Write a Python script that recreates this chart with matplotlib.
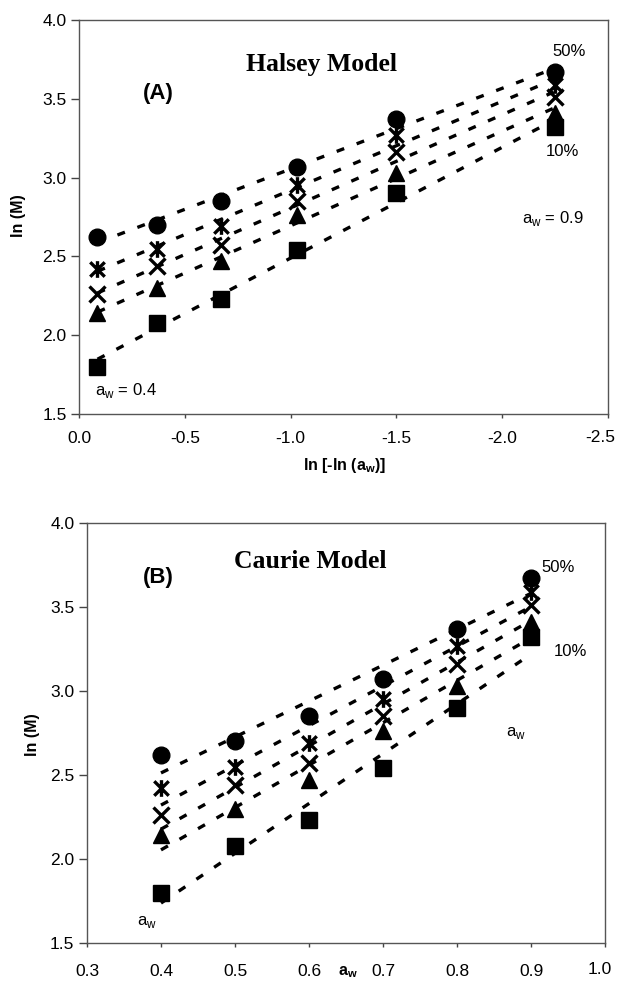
import numpy as np
import matplotlib
matplotlib.use("Agg")
import matplotlib.pyplot as plt
from matplotlib.path import Path

plt.rcParams['font.family'] = ['Liberation Sans', 'DejaVu Sans']
plt.rcParams['mathtext.fontset'] = 'custom'
plt.rcParams['mathtext.rm'] = 'Liberation Sans'
plt.rcParams['mathtext.bf'] = 'Liberation Sans:bold'

# ---- data ----
aw = [0.4, 0.5, 0.6, 0.7, 0.8, 0.9]
series_labels = ["50%", "40%", "30%", "20%", "10%"]
lnM_50 = [2.62, 2.70, 2.85, 3.07, 3.37, 3.67]
lnM_40 = [2.42, 2.55, 2.69, 2.95, 3.27, 3.59]
lnM_30 = [2.26, 2.44, 2.57, 2.85, 3.16, 3.51]
lnM_20 = [2.14, 2.30, 2.47, 2.76, 3.03, 3.41]
lnM_10 = [1.80, 2.08, 2.23, 2.54, 2.90, 3.32]
series = [lnM_50, lnM_40, lnM_30, lnM_20, lnM_10]

yticks = [1.5, 2.0, 2.5, 3.0, 3.5, 4.0]
xticks_A = [0.0, -0.5, -1.0, -1.5, -2.0, -2.5]
xticks_B = [0.3, 0.4, 0.5, 0.6, 0.7, 0.8, 0.9, 1.0]

# asterisk marker like Excel (X plus vertical bar)
ast = Path([(-1, -1), (1, 1), (-1, 1), (1, -1), (0, -1.15), (0, 1.15)],
           [Path.MOVETO, Path.LINETO, Path.MOVETO, Path.LINETO, Path.MOVETO, Path.LINETO])
markers = [dict(marker='o', ms=12, mfc='black', mec='black', mew=1),
           dict(marker=ast, ms=12, mfc='none', mec='black', mew=2.4),
           dict(marker='x', ms=12, mfc='none', mec='black', mew=2.4),
           dict(marker='^', ms=12, mfc='black', mec='black', mew=1),
           dict(marker='s', ms=11.5, mfc='black', mec='black', mew=1)]

W, H = 617, 981
fig = plt.figure(figsize=(W / 100, H / 100), dpi=100)
TICK_FS = 12.5


def rect(l, t, r, b):
    return [l / W, 1 - b / H, (r - l) / W, (b - t) / H]


def ftext(x, y, s, **kw):
    fig.text(x / W, 1 - y / H, s, **kw)


def style(ax, xpad):
    for sp in ax.spines.values():
        sp.set_color('#555555')
        sp.set_linewidth(1.0)
    ax.tick_params(axis='y', direction='out', length=6, width=1, color='#444444',
                   labelsize=TICK_FS, pad=3)
    ax.tick_params(axis='x', direction='out', length=3, width=1, color='#444444',
                   labelsize=TICK_FS, pad=xpad)
    ax.set_yticks(yticks)
    ax.set_yticklabels([f"{v:.1f}" for v in yticks])
    ax.set_ylim(1.5, 4.0)


def draw(ax, x):
    x = np.asarray(x, dtype=float)
    for ys, mk in zip(series, markers):
        ys = np.asarray(ys)
        p = np.polyfit(x, ys, 1)
        xx = np.array([x[0], x[-1]])
        ax.plot(xx, np.polyval(p, xx), color='black', lw=2.4, ls=(0, (2.4, 4.0)),
                dash_capstyle='butt', zorder=2)
        ax.plot(x, ys, ls='none', zorder=3, clip_on=False, **mk)


# ---- Panel A: Halsey ----
axA = fig.add_axes(rect(79, 20, 608, 414))
style(axA, 9)
xA = np.log(-np.log(np.asarray(aw)))
draw(axA, xA)
axA.set_xlim(0.0, -2.5)
axA.set_xticks(xticks_A)
axA.set_xticklabels([f"{v:.1f}" for v in xticks_A[:-1]] + [""])
ftext(600, 437, f"{xticks_A[-1]:.1f}", fontsize=TICK_FS, ha='center', va='center')

ftext(322, 65, "Halsey Model", family='Liberation Serif', weight='bold', fontsize=18.5,
      ha='center', va='center')
ftext(158, 94, "(A)", weight='bold', fontsize=16, ha='center', va='center')
ftext(569, 52, "50%", fontsize=12, ha='center', va='center')
ftext(562, 152, "10%", fontsize=12, ha='center', va='center')
ftext(553, 218, r"a$_\mathregular{w}$ = 0.9", fontsize=12, ha='center', va='center')
ftext(126, 390, r"a$_\mathregular{w}$ = 0.4", fontsize=12, ha='center', va='center')
ftext(18, 216, "ln (M)", weight='bold', fontsize=11.5, rotation=90, ha='center', va='center')
ftext(345, 466, r"ln [-ln (a$_\mathbf{w}$)]", weight='bold', fontsize=11.5,
      ha='center', va='center')

# ---- Panel B: Caurie ----
axB = fig.add_axes(rect(87, 523, 605, 943))
style(axB, 12)
draw(axB, aw)
axB.set_xlim(0.3, 1.0)
axB.set_xticks(xticks_B)
axB.set_xticklabels([f"{v:.1f}" for v in xticks_B[:-1]] + [""])
ftext(600, 969, f"{xticks_B[-1]:.1f}", fontsize=TICK_FS, ha='center', va='center')

ftext(310, 561, "Caurie Model", family='Liberation Serif', weight='bold', fontsize=18.5,
      ha='center', va='center')
ftext(158, 578, "(B)", weight='bold', fontsize=16, ha='center', va='center')
ftext(558, 568, "50%", fontsize=12, ha='center', va='center')
ftext(570, 652, "10%", fontsize=12, ha='center', va='center')
ftext(516, 733, r"a$_\mathregular{w}$", fontsize=12, ha='center', va='center')
ftext(147, 922, r"a$_\mathregular{w}$", fontsize=12, ha='center', va='center')
ftext(32, 735, "ln (M)", weight='bold', fontsize=11.5, rotation=90, ha='center', va='center')
ftext(348, 972, r"a$_\mathbf{w}$", weight='bold', fontsize=11.5, ha='center', va='center')

fig.savefig("out.png", dpi=100)
